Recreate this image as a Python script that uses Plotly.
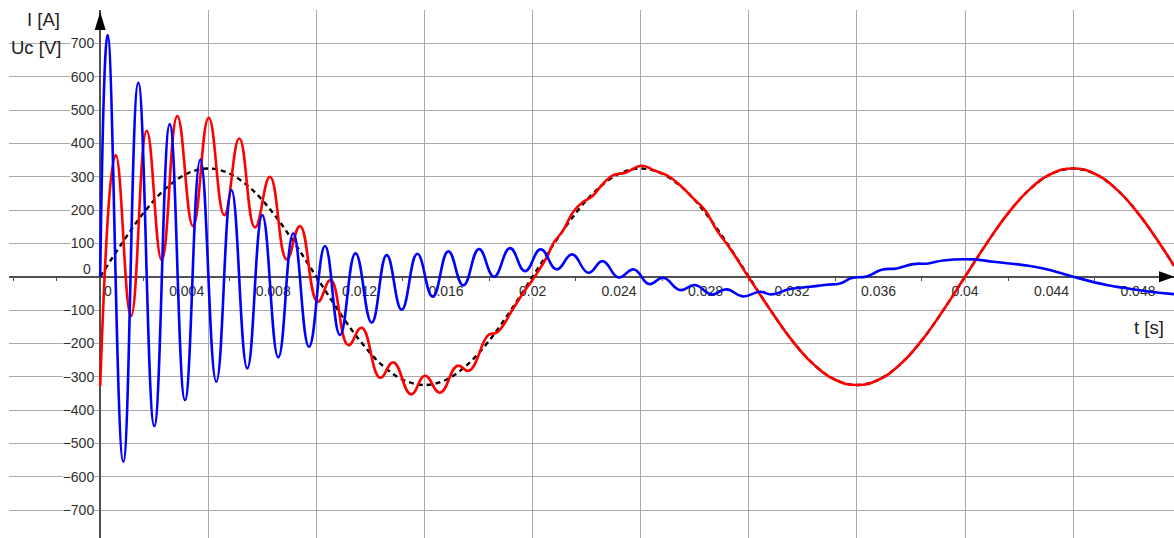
import plotly.graph_objects as go

# ---------------- data ----------------
# current I(t) [A]  (blue)
t_current = [0.0, 0.000347, 0.001068, 0.001762, 0.002502, 0.003215, 0.003922, 0.004630,
             0.005370, 0.006073, 0.006804, 0.007498, 0.008238, 0.008932, 0.009658, 0.010398,
             0.011092, 0.011809, 0.012558, 0.013252, 0.013945, 0.014667, 0.015379, 0.016101,
             0.016795, 0.017521, 0.018215, 0.018955, 0.019649, 0.020375, 0.021115, 0.021823,
             0.022576, 0.023242, 0.023964, 0.024690, 0.025384, 0.026045, 0.026818, 0.027512,
             0.028284, 0.028978, 0.029709, 0.030518, 0.031059, 0.031900, 0.032831, 0.033603,
             0.034218, 0.034759, 0.035453, 0.036147, 0.036841, 0.037609, 0.038303, 0.038997,
             0.040384, 0.041309, 0.042697, 0.043622, 0.045009, 0.046554, 0.047322, 0.048557,
             0.049667]
i_current = [0, 725, -555, 582, -448, 458, -370, 352,
             -315, 260, -275, 185, -242, 130, -210, 92,
             -175, 70, -138, 65, -99, 69, -60, 76,
             -26, 83, 0, 86, 17, 82, 22, 67,
             12, 47, -2, 22, -22, -3, -40, -25,
             -53, -38, -59, -45, -53, -37, -30, -24,
             -20, -4, 1, 21, 25, 38, 40, 49,
             52, 45, 35, 25, 0, -25, -33, -45,
             -52]

# capacitor voltage Uc(t) [V]  (red)
t_voltage = [0.0, 0.000717, 0.001425, 0.002151, 0.002845, 0.003566, 0.004292, 0.005018,
             0.005740, 0.006434, 0.007160, 0.007854, 0.008626, 0.009241, 0.010060, 0.010661,
             0.011475, 0.012095, 0.012942, 0.013557, 0.014376, 0.015023, 0.015717, 0.016526,
             0.017058, 0.017951, 0.018353, 0.019107, 0.019602, 0.019972, 0.020652, 0.020957,
             0.021420, 0.021882, 0.022345, 0.022734, 0.023270, 0.023733, 0.024274, 0.025046,
             0.025661, 0.026277, 0.026896, 0.027433, 0.027974, 0.028515, 0.029131, 0.029977,
             0.031, 0.032, 0.033, 0.034, 0.035, 0.036, 0.037, 0.038, 0.039, 0.040,
             0.041, 0.042, 0.043, 0.044, 0.045, 0.046, 0.047, 0.048, 0.049, 0.049667]
u_voltage = [-328, 365, -118, 438, 50, 482, 152, 477,
             185, 415, 148, 300, 52, 152, -75, -10,
             -205, -153, -303, -257, -353, -297, -348, -267,
             -282, -175, -167, -95, -45, -12, 58, 100,
             140, 195, 225, 240, 280, 305, 312, 333,
             318, 302, 270, 235, 200, 140, 85, 0,
             -100, -191, -263, -309, -325, -309, -263, -191, -100, 0,
             100, 191, 263, 309, 325, 309, 263, 191, 100, 33]

# steady-state source voltage (black dashed)
t_source = [0.0, 0.001, 0.002, 0.003, 0.004, 0.005, 0.006, 0.007, 0.008, 0.009,
            0.010, 0.011, 0.012, 0.013, 0.014, 0.015, 0.016, 0.017, 0.018, 0.019,
            0.020, 0.021, 0.022, 0.023, 0.024, 0.025, 0.026, 0.027, 0.028, 0.029,
            0.030, 0.031, 0.032, 0.033, 0.034, 0.035, 0.036, 0.037, 0.038, 0.039,
            0.040, 0.041, 0.042, 0.043, 0.044, 0.045, 0.046, 0.047, 0.048, 0.049, 0.049667]
u_source = [0, 100, 191, 263, 309, 325, 309, 263, 191, 100,
            0, -100, -191, -263, -309, -325, -309, -263, -191, -100,
            0, 100, 191, 263, 309, 325, 309, 263, 191, 100,
            0, -100, -191, -263, -309, -325, -309, -263, -191, -100,
            0, 100, 191, 263, 309, 325, 309, 263, 191, 100, 33]

# axis ticks
x_grid_vals = [0.005, 0.010, 0.015, 0.020, 0.025, 0.030, 0.035, 0.040, 0.045]
x_label_vals = [0.004, 0.008, 0.012, 0.016, 0.020, 0.024, 0.028, 0.032, 0.036, 0.040, 0.044, 0.048]
x_label_text = ["0.004", "0.008", "0.012", "0.016", "0.02", "0.024", "0.028", "0.032",
                "0.036", "0.04", "0.044", "0.048"]
x_minor_vals = [-0.004, -0.002, 0.002, 0.006, 0.010, 0.014, 0.018, 0.022, 0.026, 0.030,
                0.034, 0.038, 0.042, 0.046]
y_tick_vals = [-700, -600, -500, -400, -300, -200, -100, 100, 200, 300, 400, 500, 600, 700]
y_tick_text = ["\u2212700", "\u2212600", "\u2212500", "\u2212400", "\u2212300", "\u2212200",
               "\u2212100", "100", "200", "300", "400", "500", "600", "700"]
y_grid_vals = [-700, -600, -500, -400, -300, -200, -100, 0, 100, 200, 300, 400, 500, 600, 700, 800]

# ---------------- figure ----------------
W, H = 1174, 538
ML, MT = 9, 10
X_RANGE = [-0.004218, 0.049667]
Y_RANGE = [-784, 800.5]
FONT = "Liberation Sans, Arial, sans-serif"
LABEL_COLOR = "#2e2e2e"
AXIS_COLOR = "#505050"
GRID_COLOR = "#a9a9a9"

y_axis_pos = (0 - X_RANGE[0]) / (X_RANGE[1] - X_RANGE[0])
x_axis_pos = (0 - Y_RANGE[0]) / (Y_RANGE[1] - Y_RANGE[0])

fig = go.Figure()
fig.add_trace(go.Scatter(x=t_source, y=u_source, mode="lines",
                         line=dict(color="black", width=2.4, dash="5px,4px", shape="spline"),
                         hoverinfo="skip", showlegend=False))
fig.add_trace(go.Scatter(x=t_voltage, y=u_voltage, mode="lines",
                         line=dict(color="#ff0000", width=2.6, shape="spline", smoothing=1.3),
                         showlegend=False))
fig.add_trace(go.Scatter(x=t_current, y=i_current, mode="lines",
                         line=dict(color="#0000ff", width=2.6, shape="spline", smoothing=1.3),
                         showlegend=False))
# empty trace so the label axis exists
fig.add_trace(go.Scatter(x=[], y=[], xaxis="x2", showlegend=False))

shapes = []
# white boxes behind tick labels (between gridlines and traces)
for v, s in zip(y_tick_vals, y_tick_text):
    wpx = 7.3 * len(s) + 2
    shapes.append(dict(type="rect", layer="between",
                       xref="x", xsizemode="pixel", xanchor=0, x0=-6 - wpx, x1=-6,
                       yref="y", ysizemode="pixel", yanchor=v, y0=-7, y1=7,
                       fillcolor="white", line=dict(width=0)))
for v, s in zip(x_label_vals, x_label_text):
    wpx = 7.0 * len(s)
    shapes.append(dict(type="rect", layer="between",
                       xref="x", xsizemode="pixel", xanchor=v, x0=-wpx / 2 - 1, x1=wpx / 2 + 1,
                       yref="y", ysizemode="pixel", yanchor=0, y0=-21, y1=-6,
                       fillcolor="white", line=dict(width=0)))
# axis arrow heads
shapes.append(dict(type="path", layer="above",
                   xref="x", xsizemode="pixel", xanchor=0,
                   yref="paper", ysizemode="pixel", yanchor=1,
                   path="M -5.5,-20 L 5.5,-20 L 0,-2 Z",
                   fillcolor="black", line=dict(width=0)))
shapes.append(dict(type="path", layer="above",
                   xref="paper", xsizemode="pixel", xanchor=1,
                   yref="y", ysizemode="pixel", yanchor=0,
                   path="M -15,-5.5 L -15,5.5 L 1,0 Z",
                   fillcolor="black", line=dict(width=0)))

annotations = [
    dict(text="I [A]", xref="paper", yref="paper", x=(62 - ML) / (W - ML), y=1 - (20 - MT) / (H - MT),
         xanchor="right", yanchor="middle", showarrow=False,
         font=dict(family=FONT, size=18.5, color="#222")),
    dict(text="Uc [V]", xref="paper", yref="paper", x=(63 - ML) / (W - ML), y=1 - (47 - MT) / (H - MT),
         xanchor="right", yanchor="middle", showarrow=False,
         font=dict(family=FONT, size=18.5, color="#222")),
    dict(text="t [s]", xref="paper", yref="paper", x=(1166 - ML) / (W - ML), y=1 - (327 - MT) / (H - MT),
         xanchor="right", yanchor="middle", showarrow=False,
         font=dict(family=FONT, size=18.5, color="#222")),
    dict(text="0", xref="x", yref="y", x=0, y=0, xanchor="right", yanchor="middle",
         xshift=-7, yshift=8, showarrow=False, font=dict(family=FONT, size=14, color=LABEL_COLOR)),
    dict(text="0", xref="x", yref="y", x=0, y=0, xanchor="center", yanchor="middle",
         xshift=8, yshift=-14, showarrow=False, font=dict(family=FONT, size=14, color=LABEL_COLOR)),
]

fig.update_layout(
    width=W, height=H,
    margin=dict(l=ML, r=0, t=MT, b=0, pad=0),
    paper_bgcolor="white", plot_bgcolor="white",
    showlegend=False,
    shapes=shapes,
    annotations=annotations,
    xaxis=dict(range=X_RANGE, tickmode="array", tickvals=x_grid_vals, showticklabels=False,
               ticks="", showgrid=True, gridcolor=GRID_COLOR, gridwidth=1.4,
               zeroline=True, zerolinecolor=AXIS_COLOR, zerolinewidth=2, showline=False),
    xaxis2=dict(range=X_RANGE, overlaying="x", anchor="free", position=x_axis_pos, side="bottom",
                tickmode="array", tickvals=x_label_vals, ticktext=x_label_text, ticks="",
                ticklabelstandoff=4,
                tickfont=dict(family=FONT, size=14, color=LABEL_COLOR),
                minor=dict(tickmode="array", tickvals=x_minor_vals, ticks="outside", ticklen=3,
                           tickwidth=1.2, tickcolor=AXIS_COLOR, showgrid=False),
                showgrid=False, zeroline=False, showline=False, layer="below traces"),
    yaxis=dict(range=Y_RANGE, anchor="free", position=y_axis_pos,
               tickmode="array", tickvals=y_tick_vals, ticktext=y_tick_text, ticks="",
               ticklabelstandoff=6,
               tickfont=dict(family=FONT, size=14, color=LABEL_COLOR),
               showgrid=True, gridcolor=GRID_COLOR, gridwidth=1.4,
               zeroline=True, zerolinecolor=AXIS_COLOR, zerolinewidth=2, showline=False,
               layer="below traces"),
)
# gridlines at every 100 (separate from label positions so the 800 line also shows)
fig.update_yaxes(minor=dict(tickmode="array", tickvals=y_grid_vals, showgrid=True,
                            gridcolor=GRID_COLOR, gridwidth=1.4, ticks=""))

fig.write_html("out.html")
